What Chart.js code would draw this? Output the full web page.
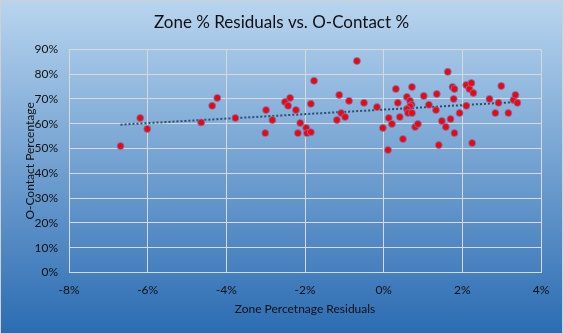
<!DOCTYPE html>
<html>
<head>
<meta charset="utf-8">
<script src="https://cdn.jsdelivr.net/npm/chart.js@4"></script>
<style>
  html, body { margin: 0; padding: 0; background: #ffffff; }
  #wrap { width: 563px; height: 334px; }
</style>
</head>
<body>
<div id="wrap"><canvas id="residualChart" width="563" height="334"></canvas></div>
<script>
// values, in percent
const zoneResiduals = [-6.69, -6.19, -6.01, -4.64, -4.36, -4.23, -3.77,
  -2.99, -3.01, -2.83, -2.51, -2.38, -2.43, -2.23, -2.12, -2.18, -1.97, -1.95, -1.85, -1.85, -1.77,
  -1.13, -1.08, -1.19, -0.98, -0.88, -0.68, -0.50, -0.17, -0.02,
  0.11, 0.13, 0.21, 0.31, 0.36, 0.41, 0.49, 0.59, 0.72, 0.67, 0.71, 0.67, 0.59, 0.62, 0.72, 0.80, 0.87,
  1.02, 1.15, 1.33, 1.35, 1.40, 1.48, 1.58, 1.63, 1.70, 1.75, 1.80, 1.78, 1.80, 1.93,
  2.10, 2.10, 2.18, 2.23, 2.28, 2.25, 2.69, 2.84, 2.92, 2.99, 3.17, 3.30, 3.35, 3.40];
const oContact = [51.0, 62.3, 57.9, 60.5, 67.2, 70.4, 62.3,
  65.5, 56.2, 61.5, 68.8, 70.4, 67.2, 65.5, 60.3, 56.2, 58.3, 56.2, 56.6, 68.0, 77.3,
  71.6, 64.3, 61.5, 62.7, 69.2, 85.3, 68.4, 66.7, 58.3,
  49.4, 62.3, 59.9, 74.0, 68.4, 62.7, 53.8, 70.8, 74.8, 69.2, 67.6, 67.0, 65.9, 64.3, 64.3, 58.7, 59.9,
  71.2, 67.6, 65.5, 72.0, 51.4, 61.1, 58.7, 80.9, 61.9, 74.8, 74.0, 70.0, 56.2, 64.3,
  67.2, 75.6, 74.0, 76.4, 72.4, 52.2, 70.0, 64.3, 68.4, 75.2, 64.3, 69.6, 71.6, 68.4];
const xTickValues = [-8, -6, -4, -2, 0, 2, 4];
const yTickValues = [0, 10, 20, 30, 40, 50, 60, 70, 80, 90];

const points = zoneResiduals.map((x, i) => ({ x: x, y: oContact[i] }));

// linear trendline (least squares), like Excel's
const n = points.length;
const mx = zoneResiduals.reduce((a, b) => a + b, 0) / n;
const my = oContact.reduce((a, b) => a + b, 0) / n;
let sxy = 0, sxx = 0;
points.forEach(p => { sxy += (p.x - mx) * (p.y - my); sxx += (p.x - mx) * (p.x - mx); });
const slope = sxy / sxx;
const icpt = my - slope * mx;
const xLo = Math.min(...zoneResiduals), xHi = Math.max(...zoneResiduals);
const trend = [{ x: xLo, y: icpt + slope * xLo }, { x: xHi, y: icpt + slope * xHi }];

const bgPlugin = {
  id: 'bg',
  beforeDraw(chart) {
    const c = chart.ctx;
    const g = c.createLinearGradient(0, 0, 0, chart.height);
    g.addColorStop(0, '#b8d5ef');
    g.addColorStop(1, '#2b6cb2');
    c.save();
    c.fillStyle = g;
    c.fillRect(0, 0, chart.width, chart.height);
    c.strokeStyle = '#d0d0d0';
    c.lineWidth = 1;
    c.strokeRect(0.5, 0.5, chart.width - 1, chart.height - 1);
    c.restore();
  }
};

const font = "Lato, 'Open Sans', sans-serif";
const gridColor = '#d9d9d9';

const ctx = document.getElementById('residualChart').getContext('2d');
const residualChart = new Chart(ctx, {
  type: 'scatter',
  data: {
    datasets: [{
      label: 'O-Contact %',
      data: points,
      backgroundColor: '#ff0000',
      borderColor: 'rgba(80,140,220,0.8)',
      borderWidth: 1,
      pointRadius: 3.5,
      pointHoverRadius: 3.5
    }, {
      type: 'line',
      label: 'Linear',
      data: trend,
      borderColor: '#2e4d6e',
      borderWidth: 2,
      borderDash: [2, 2],
      pointRadius: 0,
      fill: false
    }]
  },
  plugins: [bgPlugin],
  options: {
    responsive: false,
    animation: false,
    layout: { padding: { left: 22, right: 22, top: 0, bottom: 0 } },
    plugins: {
      legend: { display: false },
      tooltip: { enabled: false },
      title: {
        display: true,
        text: 'Zone % Residuals vs. O-Contact %',
        color: '#111111',
        font: { family: font, size: 17, weight: 'normal', lineHeight: 1.2 },
        padding: { top: 12.5, bottom: 16.4 }
      }
    },
    scales: {
      x: {
        type: 'linear',
        min: -8, max: 4,
        afterBuildTicks(s) { s.ticks = xTickValues.map(v => ({ value: v })); },
        afterFit(s) { s.height = 61.5; },
        grid: { color: gridColor, lineWidth: 1, drawTicks: false },
        border: { color: gridColor },
        ticks: {
          color: '#111111', padding: 10,
          font: { family: font, size: 12 },
          callback: v => v + '%'
        },
        title: {
          display: true,
          text: 'Zone Percetnage Residuals',
          color: '#111111',
          font: { family: font, size: 12 },
          padding: { top: 0, bottom: 17.5 }
        }
      },
      y: {
        min: 0, max: 90,
        afterBuildTicks(s) { s.ticks = yTickValues.map(v => ({ value: v })); },
        afterFit(s) { s.width = 47; },
        grid: { color: gridColor, lineWidth: 1, drawTicks: false },
        border: { color: gridColor },
        ticks: {
          color: '#111111', padding: 11,
          font: { family: font, size: 12 },
          callback: v => v + '%'
        },
        title: {
          display: true,
          text: 'O-Contact Percentage',
          color: '#111111',
          font: { family: font, size: 12 },
          padding: { top: 0.5, bottom: 0 }
        }
      }
    }
  }
});
</script>
</body>
</html>
